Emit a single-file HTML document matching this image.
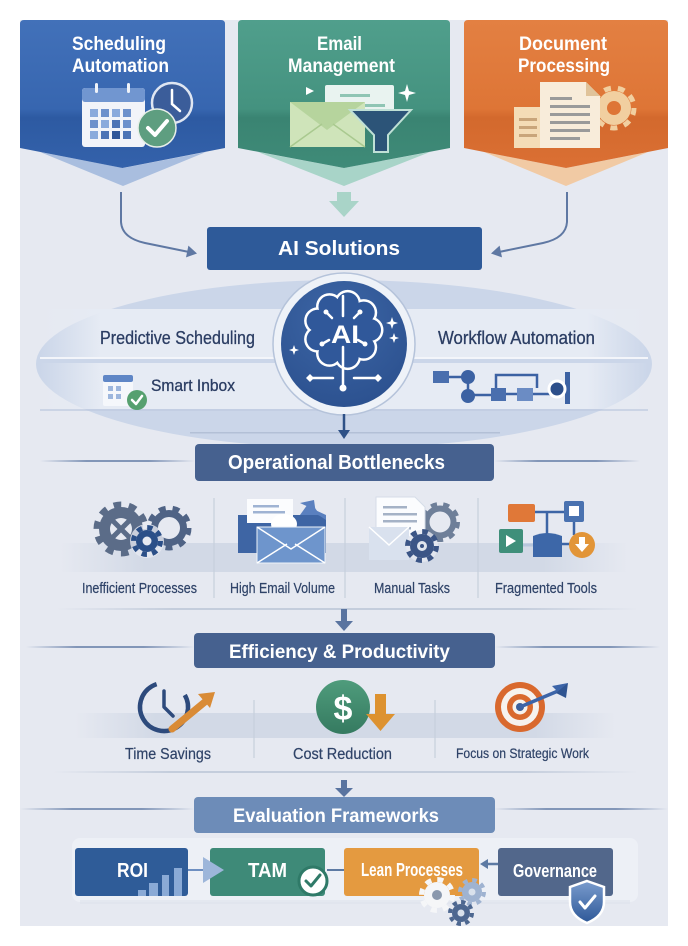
<!DOCTYPE html>
<html><head><meta charset="utf-8"><style>
html,body{margin:0;padding:0;background:#fff;}
svg{display:block;}
text{font-family:"Liberation Sans",sans-serif;}
</style></head><body>
<svg width="688" height="946" viewBox="0 0 688 946" xmlns="http://www.w3.org/2000/svg">
<defs>
 <linearGradient id="gBlue" x1="0" y1="0" x2="0" y2="1">
  <stop offset="0" stop-color="#4271b9"/><stop offset="0.6" stop-color="#3766b0"/><stop offset="0.66" stop-color="#2d5aa2"/><stop offset="1" stop-color="#3462ab"/>
 </linearGradient>
 <linearGradient id="gGreen" x1="0" y1="0" x2="0" y2="1">
  <stop offset="0" stop-color="#509f8c"/><stop offset="0.6" stop-color="#44927f"/><stop offset="0.66" stop-color="#3a8472"/><stop offset="1" stop-color="#3f8b78"/>
 </linearGradient>
 <linearGradient id="gOrange" x1="0" y1="0" x2="0" y2="1">
  <stop offset="0" stop-color="#e38042"/><stop offset="0.6" stop-color="#de7536"/><stop offset="0.66" stop-color="#d3692d"/><stop offset="1" stop-color="#db7034"/>
 </linearGradient>
 <linearGradient id="fBand" x1="0" y1="0" x2="1" y2="0">
  <stop offset="0" stop-color="#d2d9e6" stop-opacity="0"/><stop offset="0.15" stop-color="#d2d9e6" stop-opacity="1"/><stop offset="0.85" stop-color="#d2d9e6" stop-opacity="1"/><stop offset="1" stop-color="#d2d9e6" stop-opacity="0"/>
 </linearGradient>
 <linearGradient id="fLight" x1="0" y1="0" x2="1" y2="0">
  <stop offset="0" stop-color="#e6ebf4" stop-opacity="0"/><stop offset="0.1" stop-color="#e6ebf4" stop-opacity="1"/><stop offset="0.9" stop-color="#e6ebf4" stop-opacity="1"/><stop offset="1" stop-color="#e6ebf4" stop-opacity="0"/>
 </linearGradient>
 <linearGradient id="fLine" x1="0" y1="0" x2="1" y2="0">
  <stop offset="0" stop-color="#8296b8" stop-opacity="0"/><stop offset="0.3" stop-color="#8296b8" stop-opacity="1"/><stop offset="0.7" stop-color="#8296b8" stop-opacity="1"/><stop offset="1" stop-color="#8296b8" stop-opacity="0"/>
 </linearGradient>
 <linearGradient id="fLineS" x1="0" y1="0" x2="1" y2="0">
  <stop offset="0" stop-color="#c4cddc" stop-opacity="0"/><stop offset="0.2" stop-color="#c4cddc" stop-opacity="1"/><stop offset="0.8" stop-color="#c4cddc" stop-opacity="1"/><stop offset="1" stop-color="#c4cddc" stop-opacity="0"/>
 </linearGradient>
 <radialGradient id="gCirc" cx="0.45" cy="0.3" r="0.8">
  <stop offset="0" stop-color="#3d66a6"/><stop offset="1" stop-color="#2a4f8d"/>
 </radialGradient>
 <linearGradient id="gShield" x1="0" y1="0" x2="0" y2="1">
  <stop offset="0" stop-color="#7a9ccd"/><stop offset="1" stop-color="#2e5898"/>
 </linearGradient>
 <linearGradient id="gDollar" x1="0" y1="0" x2="0" y2="1">
  <stop offset="0" stop-color="#4f9c7c"/><stop offset="1" stop-color="#357a60"/>
 </linearGradient>
</defs>

<!-- panel -->
<rect x="20" y="20" width="648" height="906" fill="#e6e9f1"/>

<!-- banner shadows -->
<polygon points="40,152 123,186 206,152 123,168" fill="#a9bedf"/>
<polygon points="258,152 344,186 430,152 344,168" fill="#a8d4c8"/>
<polygon points="484,152 566,186 648,152 566,168" fill="#f1caa4"/>

<!-- banners -->
<path d="M20,24 Q20,20 24,20 H221 Q225,20 225,24 V148 L122.5,168 L20,148 Z" fill="url(#gBlue)"/>
<path d="M238,24 Q238,20 242,20 H446 Q450,20 450,24 V148 L344,168 L238,148 Z" fill="url(#gGreen)"/>
<path d="M464,24 Q464,20 468,20 H664 Q668,20 668,24 V148 L566,168 L464,148 Z" fill="url(#gOrange)"/>

<g fill="#fff" font-weight="bold" font-size="19.5">
 <text x="72" y="50" textLength="94" lengthAdjust="spacingAndGlyphs">Scheduling</text>
 <text x="72" y="72" textLength="97" lengthAdjust="spacingAndGlyphs">Automation</text>
 <text x="317" y="50" textLength="45" lengthAdjust="spacingAndGlyphs">Email</text>
 <text x="288" y="72" textLength="107" lengthAdjust="spacingAndGlyphs">Management</text>
 <text x="519" y="50" textLength="88" lengthAdjust="spacingAndGlyphs">Document</text>
 <text x="518" y="72" textLength="92" lengthAdjust="spacingAndGlyphs">Processing</text>
</g>

<!-- calendar icon -->
<rect x="82" y="88" width="63" height="59" rx="3" fill="#f2f4f9"/>
<rect x="82" y="88" width="63" height="14" rx="3" fill="#7196d0"/>
<rect x="95" y="83" width="3" height="10" rx="1.5" fill="#eef2f8"/>
<rect x="127" y="83" width="3" height="10" rx="1.5" fill="#eef2f8"/>
<g>
 <rect x="90" y="109" width="8" height="8" fill="#8aaadc"/><rect x="101" y="109" width="8" height="8" fill="#6d91cc"/><rect x="112" y="109" width="8" height="8" fill="#8aaadc"/><rect x="123" y="109" width="8" height="8" fill="#6d91cc"/>
 <rect x="90" y="120" width="8" height="8" fill="#6d91cc"/><rect x="101" y="120" width="8" height="8" fill="#8aaadc"/><rect x="112" y="120" width="8" height="8" fill="#4d74b6"/><rect x="123" y="120" width="8" height="8" fill="#6d91cc"/>
 <rect x="90" y="131" width="8" height="8" fill="#8aaadc"/><rect x="101" y="131" width="8" height="8" fill="#4d74b6"/><rect x="112" y="131" width="8" height="8" fill="#2f5699"/><rect x="123" y="131" width="8" height="8" fill="#4d74b6"/>
</g>
<circle cx="172" cy="103" r="20" fill="#3b5d9a" stroke="#dfe6f2" stroke-width="2.5"/>
<path d="M172,90 V104 L180,111" fill="none" stroke="#fff" stroke-width="2.5" stroke-linecap="round"/>
<circle cx="157" cy="128" r="19" fill="#5e9e80" stroke="#e8efe9" stroke-width="1.5"/>
<path d="M148,128 L155,135 L167,121" fill="none" stroke="#fff" stroke-width="4" stroke-linecap="round" stroke-linejoin="round"/>

<!-- email icon -->
<polygon points="306,87 314,91 306,95" fill="#fff"/>
<rect x="325" y="85" width="69" height="31" rx="2" fill="#e9f3f0"/>
<rect x="340" y="94" width="30" height="3" fill="#8fc5b4"/>
<rect x="350" y="104" width="35" height="3" fill="#8fc5b4"/>
<rect x="290" y="102" width="75" height="45" fill="#cfe4ba"/>
<path d="M290,102 L327,130 L365,102 Z" fill="#b6d49d"/>
<path d="M290,147 L322,124 M365,147 L333,124" stroke="#a9c98f" stroke-width="1.5"/>
<path d="M350,110 H411 L388,135 V152 H374 V135 Z" fill="#2c5478" stroke="#bfe0d6" stroke-width="2"/>
<path d="M407,84 L409,91 L416,93 L409,95 L407,102 L405,95 L398,93 L405,91 Z" fill="#fff"/>

<!-- document icon -->
<rect x="514" y="107" width="33" height="41" fill="#f4dcb6"/>
<rect x="519" y="118" width="18" height="3" fill="#c9a57a"/><rect x="519" y="126" width="18" height="3" fill="#c9a57a"/><rect x="519" y="134" width="18" height="3" fill="#c9a57a"/>
<circle cx="614" cy="108" r="17" fill="#f1cfa0"/>
<circle cx="614" cy="108" r="20" fill="none" stroke="#f1cfa0" stroke-width="5" stroke-dasharray="7 7"/>
<circle cx="614" cy="108" r="7" fill="#de7536"/>
<path d="M540,82 H586 L600,96 V148 H540 Z" fill="#f8ecda"/>
<path d="M586,82 V96 H600 Z" fill="#e0c39a"/>
<g fill="#9a9a9a"><rect x="550" y="97" width="22" height="3"/><rect x="550" y="105" width="40" height="3"/><rect x="550" y="113" width="40" height="3"/><rect x="550" y="121" width="40" height="3"/><rect x="550" y="129" width="40" height="3"/><rect x="550" y="137" width="30" height="3"/></g>

<!-- connectors to AI Solutions -->
<polygon points="337,192 351,192 351,201 359,201 344,217 329,201 337,201" fill="#a9d4c8"/>
<path d="M121,192 L121,222 Q122,238 145,243 L189,252" fill="none" stroke="#5f78a3" stroke-width="2"/>
<polygon points="197,253.5 186,257.4 188.4,245.6" fill="#5f78a3"/>
<path d="M567,192 L567,222 Q566,238 543,243 L499,252" fill="none" stroke="#5f78a3" stroke-width="2"/>
<polygon points="491,253.5 502,257.4 499.6,245.6" fill="#5f78a3"/>

<rect x="207" y="227" width="275" height="43" rx="3" fill="#2e5a99"/>
<text x="278" y="255" fill="#fff" font-weight="bold" font-size="20.5" textLength="122" lengthAdjust="spacingAndGlyphs">AI Solutions</text>

<!-- ellipse region -->
<ellipse cx="344" cy="364" rx="308" ry="84" fill="#cbd6e9"/>
<rect x="40" y="309" width="608" height="49" fill="url(#fLight)"/>
<rect x="40" y="357" width="608" height="2" fill="#f3f5fa"/>
<rect x="40" y="363" width="608" height="46" fill="url(#fLight)"/>
<rect x="40" y="409" width="608" height="2" fill="#bfcadf" opacity="0.7"/>
<rect x="190" y="432" width="310" height="1.5" fill="#b3c0d6"/>

<text x="100" y="344" fill="#2b3d63" font-size="18.5" stroke="#2b3d63" stroke-width="0.3" textLength="155" lengthAdjust="spacingAndGlyphs">Predictive Scheduling</text>
<text x="438" y="344" fill="#2b3d63" font-size="18.5" stroke="#2b3d63" stroke-width="0.3" textLength="157" lengthAdjust="spacingAndGlyphs">Workflow Automation</text>
<text x="151" y="391" fill="#2b3d63" font-size="16.5" stroke="#2b3d63" stroke-width="0.3" textLength="84" lengthAdjust="spacingAndGlyphs">Smart Inbox</text>

<!-- small calendar -->
<rect x="103" y="375" width="30" height="31" rx="2" fill="#f5f7fb"/>
<rect x="103" y="375" width="30" height="7" rx="2" fill="#5f86c6"/>
<g fill="#9db6dd"><rect x="108" y="386" width="5" height="5"/><rect x="116" y="386" width="5" height="5"/><rect x="108" y="394" width="5" height="5"/><rect x="116" y="394" width="5" height="5"/></g>
<circle cx="137" cy="400" r="10" fill="#56a06f"/>
<path d="M132,400 L136,404 L142,396" fill="none" stroke="#fff" stroke-width="2.5" stroke-linecap="round" stroke-linejoin="round"/>

<!-- workflow icon -->
<g stroke="#3c62a3" stroke-width="2.5" fill="none">
 <path d="M449,377 H468 V395 H491"/><path d="M506,394 H517"/><path d="M496,388 V375 H537 V388"/><path d="M533,394 H550"/>
</g>
<rect x="433" y="371" width="16" height="12" fill="#4a6fae"/>
<circle cx="468" cy="377" r="7" fill="#3c62a3"/>
<circle cx="468" cy="396" r="7" fill="#3c62a3"/>
<rect x="491" y="388" width="15" height="13" fill="#4a6fae"/>
<rect x="517" y="388" width="16" height="13" fill="#6b8cc4"/>
<rect x="565" y="372" width="5" height="32" fill="#3c62a3"/>
<circle cx="557" cy="389" r="8" fill="#2d4f8a" stroke="#fff" stroke-width="3"/>

<!-- AI circle -->
<circle cx="344" cy="344" r="71" fill="#eef2f8" stroke="#b5c3da" stroke-width="1.5"/>
<circle cx="344" cy="344" r="63" fill="url(#gCirc)"/>
<g fill="#fff">
 <circle cx="343" cy="330" r="29.5"/>
 <circle cx="370" cy="330" r="13.5"/><circle cx="363.7" cy="347.4" r="13.5"/><circle cx="347.7" cy="356.6" r="13.5"/><circle cx="329.5" cy="353.4" r="13.5"/><circle cx="317.6" cy="339.2" r="13.5"/><circle cx="317.6" cy="320.8" r="13.5"/><circle cx="329.5" cy="306.6" r="13.5"/><circle cx="347.7" cy="303.4" r="13.5"/><circle cx="363.7" cy="312.6" r="13.5"/>
</g>
<g fill="#30589a">
 <circle cx="343" cy="330" r="27"/>
 <circle cx="370" cy="330" r="11"/><circle cx="363.7" cy="347.4" r="11"/><circle cx="347.7" cy="356.6" r="11"/><circle cx="329.5" cy="353.4" r="11"/><circle cx="317.6" cy="339.2" r="11"/><circle cx="317.6" cy="320.8" r="11"/><circle cx="329.5" cy="306.6" r="11"/><circle cx="347.7" cy="303.4" r="11"/><circle cx="363.7" cy="312.6" r="11"/>
</g>
<g stroke="#fff" stroke-width="2.5" fill="none" stroke-linecap="round">
 <path d="M343,296 V316"/><path d="M343,347 V386"/><path d="M313,378 H333"/><path d="M354,378 H375"/>
 <path d="M326,312 L332,318"/><path d="M360,312 L354,318"/><path d="M322,344 L329,340"/><path d="M365,344 L358,340"/>
</g>
<g fill="#fff">
 <circle cx="326" cy="312" r="2.5"/><circle cx="360" cy="312" r="2.5"/><circle cx="322" cy="344" r="2.5"/><circle cx="365" cy="344" r="2.5"/>
 <circle cx="343" cy="388" r="3.5"/>
 <polygon points="306,378 310,374 314,378 310,382"/><polygon points="374,378 378,374 382,378 378,382"/>
 <path d="M392,317 L393.5,321.5 L398,323 L393.5,324.5 L392,329 L390.5,324.5 L386,323 L390.5,321.5 Z"/>
 <path d="M394,333 L395.3,336.7 L399,338 L395.3,339.3 L394,343 L392.7,339.3 L389,338 L392.7,336.7 Z"/>
 <path d="M294,345 L295.3,348.7 L299,350 L295.3,351.3 L294,355 L292.7,351.3 L289,350 L292.7,348.7 Z"/>
</g>
<text x="331" y="343" fill="#fff" font-weight="bold" font-size="25" textLength="28" lengthAdjust="spacingAndGlyphs">AI</text>

<!-- arrow to bottlenecks -->
<path d="M344,414 V432" stroke="#2e5187" stroke-width="2.5"/>
<polygon points="338,430 350,430 344,439" fill="#2e5187"/>

<!-- Operational Bottlenecks -->
<rect x="40" y="460" width="155" height="2" fill="url(#fLine)"/>
<rect x="494" y="460" width="146" height="2" fill="url(#fLine)"/>
<rect x="195" y="444" width="299" height="37" rx="4" fill="#46618f"/>
<text x="228" y="469" fill="#fff" font-weight="bold" font-size="20" textLength="217" lengthAdjust="spacingAndGlyphs">Operational Bottlenecks</text>

<rect x="60" y="543" width="568" height="29" fill="url(#fBand)"/>
<g stroke="#c6cfdd" stroke-width="1.2"><path d="M214,498 V598"/><path d="M345,498 V598"/><path d="M478,498 V598"/></g>

<!-- icon 1 gears -->
<circle cx="169" cy="528" r="20" fill="none" stroke="#4f6385" stroke-width="5" stroke-dasharray="6.98 6.98"/>
<circle cx="169" cy="528" r="14.5" fill="none" stroke="#4f6385" stroke-width="7"/>
<circle cx="121" cy="529" r="22" fill="#5b6c88"/>
<circle cx="121" cy="529" r="24.5" fill="none" stroke="#5b6c88" stroke-width="6" stroke-dasharray="7.7 7.7"/>
<circle cx="121" cy="529" r="11" fill="#e6e9f1"/>
<path d="M112,520 L130,538 M130,520 L112,538" stroke="#5b6c88" stroke-width="5"/>
<circle cx="147" cy="541" r="17" fill="#e6e9f1" opacity="0.8"/>
<circle cx="147" cy="541" r="11" fill="#2b4f88"/>
<circle cx="147" cy="541" r="13.5" fill="none" stroke="#2b4f88" stroke-width="5" stroke-dasharray="5.3 5.3"/>
<circle cx="147" cy="541" r="4.5" fill="#e6e9f1"/>

<!-- icon 2 email -->
<rect x="238" y="515" width="88" height="38" fill="#3e65a4"/>
<polygon points="300,503 314,500 316,514 320,516 326,520 326,515" fill="#5a80bf"/>
<path d="M300,515 L310,501 L320,515 Z" fill="#5a80bf"/>
<rect x="247" y="499" width="46" height="24" fill="#fbfcfe"/>
<rect x="253" y="505" width="26" height="2.5" fill="#9fb3d3"/><rect x="253" y="511" width="32" height="2.5" fill="#9fb3d3"/>
<ellipse cx="284" cy="524" rx="13" ry="10" fill="#fff"/>
<rect x="257" y="527" width="68" height="36" fill="#6e95cc" stroke="#eef2f9" stroke-width="1"/>
<path d="M257,527 L291,549 L325,527 M257,563 L287,544 M325,563 L295,544" fill="none" stroke="#fff" stroke-width="1.5"/>

<!-- icon 3 manual -->
<circle cx="440" cy="522" r="18" fill="none" stroke="#6e7f99" stroke-width="4" stroke-dasharray="6.28 6.28"/>
<circle cx="440" cy="522" r="13.5" fill="none" stroke="#6e7f99" stroke-width="6"/>
<path d="M376,497 H415 L425,507 V537 H376 Z" fill="#fbfcfe" stroke="#d5dce8" stroke-width="1"/>
<g fill="#a5b2c6"><rect x="383" y="506" width="24" height="2.5"/><rect x="383" y="513" width="34" height="2.5"/><rect x="383" y="520" width="34" height="2.5"/><rect x="383" y="527" width="28" height="2.5"/></g>
<rect x="369" y="527" width="40" height="33" fill="#d9e1ee"/>
<path d="M369,527 L389,545 L409,527" fill="none" stroke="#fff" stroke-width="1.5"/>
<circle cx="422" cy="546" r="16" fill="#e6e9f1" opacity="0.8"/>
<circle cx="422" cy="546" r="12" fill="#3b5586"/>
<circle cx="422" cy="546" r="14.5" fill="none" stroke="#3b5586" stroke-width="5" stroke-dasharray="5.7 5.7"/>
<circle cx="422" cy="546" r="5" fill="#dfe5ee"/><circle cx="422" cy="546" r="2" fill="#3b5586"/>

<!-- icon 4 fragmented -->
<g stroke="#3d65a6" stroke-width="2.5" fill="none"><path d="M535,512 H564"/><path d="M547,512 V535"/><path d="M574,522 V535"/><path d="M562,544 H572"/></g>
<path d="M523,545 H535" stroke="#b7c6dc" stroke-width="3"/>
<rect x="508" y="504" width="27" height="18" rx="2" fill="#e07838"/>
<rect x="564" y="501" width="20" height="21" rx="2" fill="#4a72b0"/>
<rect x="569" y="506" width="10" height="10" fill="#fff"/>
<rect x="499" y="529" width="24" height="24" rx="2" fill="#3f8f7a"/>
<polygon points="506,535 506,547 516,541" fill="#fff"/>
<path d="M533,536 Q547,530 562,536 V557 H533 Z" fill="#3d67a8"/>
<circle cx="582" cy="545" r="13" fill="#e29538"/>
<path d="M579,537 H585 V544 H589 L582,552 L575,544 H579 Z" fill="#fff"/>

<g fill="#2f4368" font-size="14.5" stroke="#2f4368" stroke-width="0.2">
 <text x="82" y="593" textLength="115" lengthAdjust="spacingAndGlyphs">Inefficient Processes</text>
 <text x="230" y="593" textLength="105" lengthAdjust="spacingAndGlyphs">High Email Volume</text>
 <text x="374" y="593" textLength="76" lengthAdjust="spacingAndGlyphs">Manual Tasks</text>
 <text x="495" y="593" textLength="102" lengthAdjust="spacingAndGlyphs">Fragmented Tools</text>
</g>

<rect x="57" y="608" width="581" height="2" fill="url(#fLineS)"/>
<rect x="341" y="609" width="6" height="13" fill="#5a74a0"/>
<polygon points="335,621 353,621 344,631" fill="#5a74a0"/>

<!-- Efficiency -->
<rect x="26" y="646" width="168" height="2" fill="url(#fLine)"/>
<rect x="495" y="646" width="165" height="2" fill="url(#fLine)"/>
<rect x="194" y="633" width="301" height="35" rx="4" fill="#46618f"/>
<text x="229" y="658" fill="#fff" font-weight="bold" font-size="19" textLength="221" lengthAdjust="spacingAndGlyphs">Efficiency &amp; Productivity</text>

<rect x="75" y="713" width="541" height="25" fill="url(#fBand)"/>
<g stroke="#c6cfdd" stroke-width="1.2"><path d="M254,700 V758"/><path d="M435,700 V758"/></g>

<!-- clock -->
<circle cx="164" cy="707" r="24" fill="none" stroke="#2d4a7c" stroke-width="4.5" stroke-dasharray="118 33" transform="rotate(-30 164 707)"/>
<path d="M164,691 V707 L173,716" fill="none" stroke="#2d4a7c" stroke-width="3.5" stroke-linecap="round" stroke-linejoin="round"/>
<path d="M172,729 L206,701" stroke="#d98b36" stroke-width="7" stroke-linecap="round"/>
<polygon points="215,692 210,708 198,694" fill="#d98b36"/>

<!-- dollar -->
<circle cx="343" cy="707" r="27" fill="url(#gDollar)"/>
<text x="343" y="720" text-anchor="middle" fill="#fff" font-weight="bold" font-size="34">$</text>
<rect x="375" y="694" width="11" height="22" fill="#dd9230"/>
<polygon points="366,714 395,714 380.5,731" fill="#dd9230"/>

<!-- target -->
<circle cx="520" cy="707" r="25" fill="#d9692e"/>
<circle cx="520" cy="707" r="19" fill="#f6f2ee"/>
<circle cx="520" cy="707" r="13" fill="#d9692e"/>
<circle cx="520" cy="707" r="7.5" fill="#f6f2ee"/>
<circle cx="520" cy="707" r="4" fill="#3c5f9a"/>
<path d="M520,707 L558,691" stroke="#3c64a8" stroke-width="3.5"/>
<polygon points="552,686 568,683 560,694" fill="#3c64a8"/>
<polygon points="556,693 568,683 566,698" fill="#2f5491"/>

<g fill="#2f4368" stroke="#2f4368" stroke-width="0.2">
 <text x="125" y="759" font-size="15.5" textLength="86" lengthAdjust="spacingAndGlyphs">Time Savings</text>
 <text x="293" y="759" font-size="15.5" textLength="99" lengthAdjust="spacingAndGlyphs">Cost Reduction</text>
 <text x="456" y="758" font-size="13.5" textLength="133" lengthAdjust="spacingAndGlyphs">Focus on Strategic Work</text>
</g>

<rect x="53" y="771" width="585" height="2" fill="url(#fLineS)"/>
<rect x="341" y="780" width="6" height="9" fill="#5a74a0"/>
<polygon points="335,788 353,788 344,797" fill="#5a74a0"/>

<!-- Evaluation -->
<rect x="20" y="808" width="174" height="2" fill="url(#fLine)"/>
<rect x="494" y="808" width="174" height="2" fill="url(#fLine)"/>
<rect x="194" y="797" width="301" height="36" rx="4" fill="#6d8cb8"/>
<text x="233" y="822" fill="#fff" font-weight="bold" font-size="19.5" textLength="206" lengthAdjust="spacingAndGlyphs">Evaluation Frameworks</text>

<rect x="72" y="838" width="566" height="64" rx="8" fill="#edf0f6"/>
<rect x="80" y="900" width="550" height="4" fill="#dde3ed" opacity="0.6"/>

<rect x="75" y="848" width="113" height="48" rx="3" fill="#2f5c98"/>
<g fill="#8aaad6"><rect x="138" y="890" width="8" height="6"/><rect x="149" y="883" width="9" height="13"/><rect x="162" y="875" width="7" height="21"/><rect x="174" y="868" width="8" height="28"/></g>
<text x="117" y="877" fill="#fff" font-weight="bold" font-size="20" textLength="31" lengthAdjust="spacingAndGlyphs">ROI</text>

<path d="M188,870 H206" stroke="#6e8fc1" stroke-width="2"/>
<rect x="210" y="848" width="115" height="48" rx="3" fill="#3e8a78"/>
<polygon points="203,857 203,883 224,870" fill="#9db6da"/>
<text x="248" y="877" fill="#fff" font-weight="bold" font-size="20" textLength="39" lengthAdjust="spacingAndGlyphs">TAM</text>
<circle cx="313" cy="881" r="14" fill="#fff" stroke="#2f7a68" stroke-width="3"/>
<path d="M306,881 L311,886 L320,875" fill="none" stroke="#2f7a68" stroke-width="3" stroke-linecap="round" stroke-linejoin="round"/>

<path d="M327,870 H344" stroke="#5d7aa3" stroke-width="2"/>
<rect x="344" y="848" width="135" height="48" rx="3" fill="#e49a40"/>
<text x="361" y="876" fill="#fff" font-weight="bold" font-size="18" textLength="102" lengthAdjust="spacingAndGlyphs">Lean Processes</text>

<!-- gears -->
<circle cx="472" cy="892" r="10" fill="#9fb3d1"/>
<circle cx="472" cy="892" r="12" fill="none" stroke="#9fb3d1" stroke-width="4" stroke-dasharray="4.7 4.7"/>
<circle cx="472" cy="892" r="3.5" fill="#d9e1ec"/>
<circle cx="461" cy="913" r="9" fill="#4d6790"/>
<circle cx="461" cy="913" r="11" fill="none" stroke="#4d6790" stroke-width="4" stroke-dasharray="4.3 4.3"/>
<circle cx="461" cy="913" r="3.5" fill="#d9e1ec"/>
<circle cx="437" cy="895" r="13" fill="#f5f6f8"/>
<circle cx="437" cy="895" r="15.5" fill="none" stroke="#f5f6f8" stroke-width="5" stroke-dasharray="6.1 6.1"/>
<circle cx="437" cy="895" r="5" fill="#8a98ad"/>

<path d="M498,864 H486" stroke="#5d7aa3" stroke-width="2.5"/>
<polygon points="480,864 488,859 488,869" fill="#5d7aa3"/>
<rect x="498" y="848" width="115" height="48" rx="3" fill="#52678b"/>
<text x="513" y="877" fill="#fff" font-weight="bold" font-size="18" textLength="84" lengthAdjust="spacingAndGlyphs">Governance</text>

<path d="M587,881 L604,887 V902 Q604,916 587,923 Q570,916 570,902 V887 Z" fill="url(#gShield)" stroke="#fff" stroke-width="2.5"/>
<path d="M580,902 L585,908 L595,896" fill="none" stroke="#fff" stroke-width="3" stroke-linecap="round" stroke-linejoin="round"/>
</svg>
</body></html>
